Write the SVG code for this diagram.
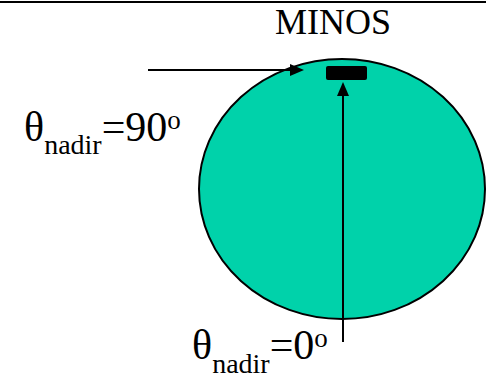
<svg xmlns="http://www.w3.org/2000/svg" width="486" height="380" viewBox="0 0 486 380">
<style>
.t{font-family:"Liberation Serif","Times New Roman",serif;fill:#000}
.line{stroke:#000;stroke-width:2;fill:none}
.head{fill:#000}
</style>
<rect width="486" height="380" fill="#fff"/>
<line x1="0" y1="2" x2="486" y2="2" stroke="#000" stroke-width="2"/>
<g id="earth">
<ellipse cx="342" cy="189" rx="143" ry="130" fill="#00d2aa" stroke="#000" stroke-width="2"/>
</g>
<g id="detector">
<rect x="326" y="66" width="41" height="14" rx="2" fill="#000"/>
</g>
<g id="minos-label">
<text class="t" x="275" y="34" font-size="36">MINOS</text>
</g>
<g id="label-90">
<text class="t" x="24" y="141" font-size="42">θ<tspan font-size="28" dy="13">nadir</tspan><tspan dy="-13">=90</tspan><tspan font-size="27" dy="-12">o</tspan></text>
</g>
<g id="label-0">
<text class="t" x="192" y="359" font-size="42">θ<tspan font-size="28" dy="14">nadir</tspan><tspan dy="-14">=0</tspan><tspan font-size="27" dy="-12">o</tspan></text>
</g>
<g id="connectors">
<path class="line" d="M148,70 H292"/>
<path class="head" d="M304,70 L290,64 L290,76 z"/>
<path class="line" d="M343,342 V94"/>
<path class="head" d="M343,82 L337,96 L349,96 z"/>
</g>
</svg>
